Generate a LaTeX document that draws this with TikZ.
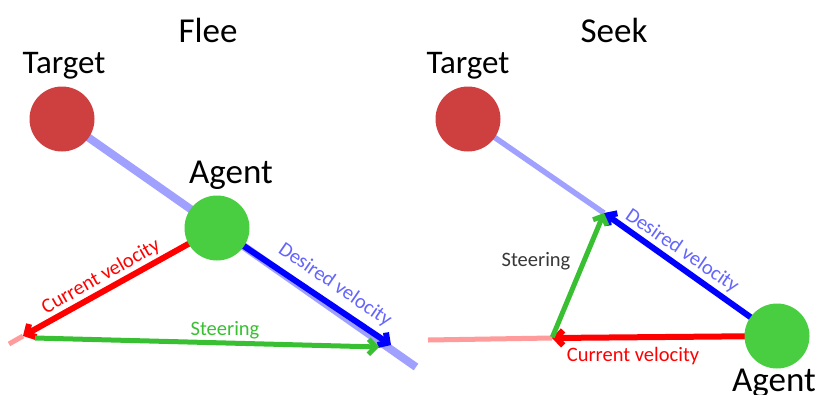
\documentclass[tikz,border=0pt]{standalone}
\usepackage{fontspec}
\setmainfont{Carlito}
\usetikzlibrary{arrows.meta}

\definecolor{targetred}{RGB}{206,64,64}
\definecolor{agentgreen}{RGB}{72,206,64}
\definecolor{guideblue}{RGB}{160,160,255}
\definecolor{desiredtext}{RGB}{100,100,255}
\definecolor{vecgreen}{RGB}{56,192,50}
\definecolor{fadered}{RGB}{255,155,155}
\definecolor{labelgray}{RGB}{55,55,55}

\begin{document}
\begin{tikzpicture}[x=1pt,y=-1pt,
  ball/.style={circle,minimum size=65pt,inner sep=0pt},
  heading/.style={font=\fontsize{35}{40}\selectfont,anchor=base},
  vlabel/.style={font=\fontsize{20.5}{24}\selectfont},
  vec/.style={line width=#1,-{Straight Barb[length=7pt,width=15pt]}},
  guide/.style={guideblue,line width=#1},
  fade/.style={fadered,line width=5pt}
]
\useasboundingbox (0,0) rectangle (818,394);

% ---------------- Flee ----------------
\coordinate (tLc) at (62,119);
\coordinate (aLc) at (217,228);
\coordinate (guideL) at (416,367);
\coordinate (cL) at (23,336);
\coordinate (cLfade) at (9,344);
\coordinate (dL) at (391,345);
\coordinate (sL) at (35,338);
\coordinate (sLtip) at (379,347);

\draw[guide=8pt] (tLc) -- (guideL);
\draw[fade] (cL) -- (cLfade);
\draw[vec=6pt,blue] (aLc) -- (dL);
\draw[vec=6pt,red] (aLc) -- (cL);
\draw[vec=5pt,vecgreen] (sL) -- (sLtip);

\node[ball,fill=targetred] (tL) at (tLc) {};
\node[ball,fill=agentgreen] (aL) at (aLc) {};

\node[heading] (fleeT) at (208,42) {Flee};
\node[heading,font=\fontsize{33}{40}\selectfont] (tLlab) at (64,73) {Target};
\node[heading] (aLlab) at (231,183) {Agent};
\node[vlabel,text=vecgreen,anchor=base] (sLlab) at (225,335) {Steering};
\node[vlabel,text=red,rotate=29.5] (cLlab) at (101,277) {Current velocity};
\node[vlabel,text=desiredtext,rotate=-34.5] (dLlab) at (335,285) {Desired velocity};

% ---------------- Seek ----------------
\coordinate (tRc) at (468,119);
\coordinate (aRc) at (777,336);
\coordinate (dR) at (604,213);
\coordinate (cR) at (552,338);
\coordinate (cRfade) at (428,340);

\draw[guide=5.5pt] (tRc) -- (dR);
\draw[fade] (cR) -- (cRfade);
\draw[vec=6pt,blue] (aRc) -- (dR);
\draw[vec=6pt,red] (aRc) -- (cR);
\draw[vec=5pt,vecgreen,shorten <=1pt] (cR) -- (dR);

\node[ball,fill=targetred] (tR) at (tRc) {};
\node[ball,fill=agentgreen] (aR) at (aRc) {};

\node[heading] (seekT) at (614,42) {Seek};
\node[heading,font=\fontsize{33}{40}\selectfont] (tRlab) at (468,73) {Target};
\node[heading,anchor=base west,inner sep=0pt] (aRlab) at (732,391) {Agent};
\node[vlabel,text=labelgray,anchor=base] (sRlab) at (536,266) {Steering};
\node[vlabel,text=red,anchor=base] (cRlab) at (633,361) {Current velocity};
\node[vlabel,text=desiredtext,rotate=-34.5] (dRlab) at (682,251) {Desired velocity};
\end{tikzpicture}
\end{document}
